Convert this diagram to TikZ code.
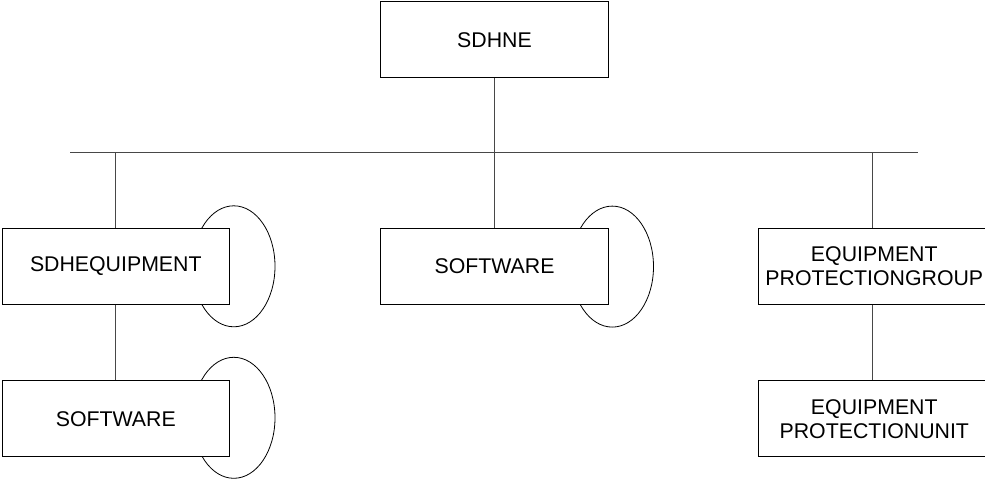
\documentclass[tikz,border=0pt]{standalone}
\usepackage{fontspec}
\setmainfont{Liberation Sans}
\usetikzlibrary{shapes.geometric}
\begin{document}
\begin{tikzpicture}[x=1pt,y=-1pt,
  objbox/.style={draw=black, line width=0.8pt, fill=white, inner sep=0pt,
    minimum width=227.6pt, minimum height=76pt, align=center,
    font=\fontsize{21.3}{24}\selectfont},
  loop/.style={draw=black, line width=0.8pt, ellipse, inner sep=0pt,
    minimum width=82.4pt, minimum height=121pt},
  link/.style={draw=black!72, line width=1.1pt}]
\useasboundingbox (0,0) rectangle (985,484);

% self-association loops, drawn first so the boxes cover their left parts
\node[loop] (loopA) at (233.8,266.3) {};
\node[loop] (loopB) at (612.3,266.6) {};
\node[loop] (loopC) at (233.8,417.8) {};

% object classes
\node[objbox] (ne)  at (494.5,39.7)  {SDHNE};
\node[objbox] (eq)  at (115.8,266.3) {SDHEQUIPMENT};
\node[objbox] (sw1) at (494.5,266.6) {SOFTWARE};
\node[objbox, minimum width=232pt] (epg) at (874.3,266.3) {EQUIPMENT\\PROTECTIONGROUP};
\node[objbox] (sw2) at (115.8,418.7) {SOFTWARE};
\node[objbox, minimum width=232pt] (epu) at (874.3,418.7) {EQUIPMENT\\PROTECTIONUNIT};

% containment bus
\coordinate (busL) at (70,152.7);
\coordinate (busR) at (917.7,152.7);
\coordinate (dropR) at (872.3,152.7);
\draw[link] (busL) -- (busR);
\draw[link] (ne.south) -- (sw1.north);
\draw[link] (eq.north |- busL) -- (eq.north);
\draw[link] (dropR) -- (dropR |- epg.north);
\draw[link] (eq.south) -- (sw2.north);
\draw[link] (epg.south -| dropR) -- (dropR |- epu.north);
\end{tikzpicture}
\end{document}
